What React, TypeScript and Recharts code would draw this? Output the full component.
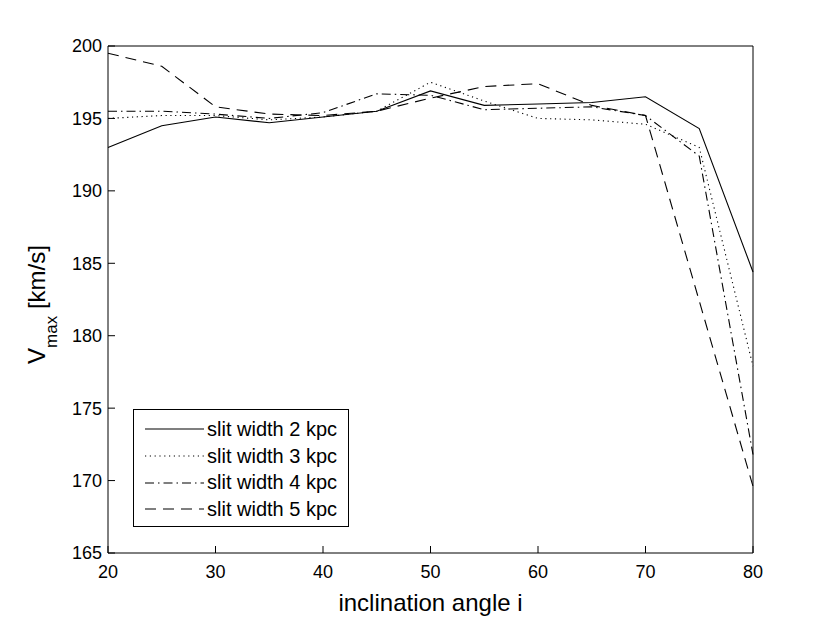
import { Label, Legend, Line, LineChart, XAxis, YAxis } from "recharts";

const FONT = "'Liberation Sans', Arial, Helvetica, sans-serif";

const INCLINATION = [20, 25, 30, 35, 40, 45, 50, 55, 60, 65, 70, 75, 80];
const X_TICKS = [20, 30, 40, 50, 60, 70, 80];
const Y_TICKS = [165, 170, 175, 180, 185, 190, 195, 200];

const SLIT_2 = [193.0, 194.5, 195.1, 194.7, 195.1, 195.5, 196.9, 195.9, 196.0, 196.1, 196.5, 194.3, 184.4];
const SLIT_3 = [195.0, 195.2, 195.2, 194.9, 195.1, 195.5, 197.5, 196.2, 195.0, 194.9, 194.6, 193.0, 177.9];
const SLIT_4 = [195.5, 195.5, 195.3, 195.0, 195.4, 196.7, 196.6, 195.6, 195.7, 195.8, 195.2, 192.4, 171.8];
const SLIT_5 = [199.5, 198.6, 195.8, 195.3, 195.2, 195.5, 196.4, 197.2, 197.4, 195.9, 195.2, 182.4, 169.6];

const SERIES = [
  { key: "w2", name: "slit width 2 kpc", dash: undefined as string | undefined },
  { key: "w3", name: "slit width 3 kpc", dash: "1.2 3.6" },
  { key: "w4", name: "slit width 4 kpc", dash: "9 4 1.5 4" },
  { key: "w5", name: "slit width 5 kpc", dash: "11 7" },
];

const data = INCLINATION.map((i, idx) => ({
  i,
  w2: SLIT_2[idx],
  w3: SLIT_3[idx],
  w4: SLIT_4[idx],
  w5: SLIT_5[idx],
}));

const tickStyle = { fill: "#000", fontSize: 18, fontFamily: FONT };

function YTitle({ viewBox }: any) {
  const x = viewBox.x + viewBox.width - 63;
  const y = viewBox.y + viewBox.height / 2 + 5;
  return (
    <text
      transform={`translate(${x},${y}) rotate(-90)`}
      textAnchor="middle"
      fill="#000"
      fontFamily={FONT}
      fontSize={24}
    >
      <tspan>V</tspan>
      <tspan fontSize={17} dy={12}>max</tspan>
      <tspan dy={-12}> [km/s]</tspan>
    </text>
  );
}

function LegendBox() {
  return (
    <div
      style={{
        width: 216,
        height: 118,
        boxSizing: "border-box",
        border: "1px solid #000",
        background: "#fff",
        paddingTop: 6,
        fontFamily: FONT,
        fontSize: 20,
        color: "#000",
      }}
    >
      {SERIES.map((s) => (
        <div key={s.key} style={{ display: "flex", alignItems: "center", height: 26.7 }}>
          <svg width={59} height={10} style={{ marginLeft: 11 }}>
            <line x1={0} y1={5} x2={59} y2={5} stroke="#000" strokeWidth={1.1} strokeDasharray={s.dash} />
          </svg>
          <span style={{ marginLeft: 3, whiteSpace: "nowrap" }}>{s.name}</span>
        </div>
      ))}
    </div>
  );
}

export default function App() {
  return (
    <div style={{ position: "absolute", left: 0, top: 0, background: "#fff" }}>
      <LineChart
        width={830}
        height={624}
        data={data}
        margin={{ top: 36, right: 67, bottom: 31, left: 48 }}
      >
        <XAxis
          dataKey="i"
          type="number"
          domain={[20, 80]}
          ticks={X_TICKS}
          height={40}
          tickSize={-7}
          tickMargin={19}
          tick={tickStyle}
          axisLine={{ stroke: "#000" }}
          tickLine={{ stroke: "#000" }}
        >
          <Label
            value="inclination angle i"
            position="bottom"
            offset={1}
            fill="#000"
            fontSize={24}
            fontFamily={FONT}
          />
        </XAxis>
        <XAxis
          xAxisId="top"
          dataKey="i"
          type="number"
          orientation="top"
          domain={[20, 80]}
          ticks={X_TICKS}
          height={10}
          tickSize={-7}
          tick={false}
          axisLine={{ stroke: "#000" }}
          tickLine={{ stroke: "#000" }}
        />
        <YAxis
          type="number"
          domain={[165, 200]}
          ticks={Y_TICKS}
          width={60}
          tickSize={-7}
          tickMargin={13}
          tick={tickStyle}
          axisLine={{ stroke: "#000" }}
          tickLine={{ stroke: "#000" }}
          label={{ content: YTitle }}
        />
        <YAxis
          yAxisId="right"
          type="number"
          orientation="right"
          domain={[165, 200]}
          ticks={Y_TICKS}
          width={10}
          tickSize={-7}
          tick={false}
          axisLine={{ stroke: "#000" }}
          tickLine={{ stroke: "#000" }}
        />
        <Legend
          layout="vertical"
          align="center"
          verticalAlign="middle"
          content={LegendBox}
          wrapperStyle={{ left: 133, top: 409, width: 216, height: 118 }}
        />
        {SERIES.map((s) => (
          <Line
            key={s.key}
            type="linear"
            dataKey={s.key}
            name={s.name}
            stroke="#000"
            strokeWidth={1.1}
            strokeDasharray={s.dash}
            dot={false}
            activeDot={false}
            isAnimationActive={false}
          />
        ))}
      </LineChart>
    </div>
  );
}
